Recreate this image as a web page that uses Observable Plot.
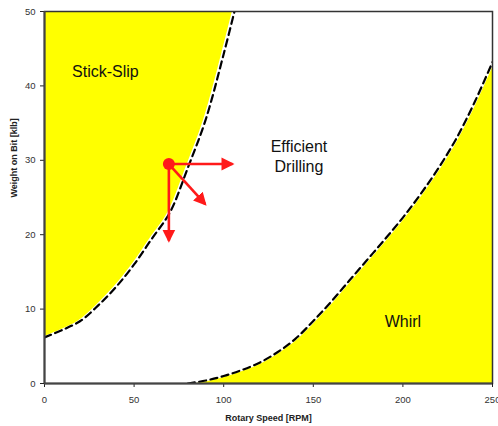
<!DOCTYPE html>
<html>
<head>
<meta charset="utf-8">
<script src="https://cdn.jsdelivr.net/npm/d3@7"></script>
<script src="https://cdn.jsdelivr.net/npm/@observablehq/plot@0.6"></script>
<style>
  html, body { margin: 0; padding: 0; background: #fff; }
</style>
</head>
<body>
<div id="chart"></div>
<script>
// Stick-slip boundary (Rotary Speed [RPM] vs Weight on Bit [klb])
const slipRPM = [0, 10, 20, 30, 40, 50, 60, 70, 80, 90, 100, 106];
const slipWOB = [6.2, 7.2, 8.4, 10.5, 13, 16, 19.5, 23, 29, 35.5, 44.3, 50];

// Whirl boundary
const whirlRPM = [80, 90, 100, 110, 120, 130, 140, 150, 160, 170, 180, 190, 200, 210, 220, 230, 240, 250];
const whirlWOB = [0, 0.4, 1.0, 1.8, 2.8, 4.2, 6.0, 8.4, 11, 13.8, 16.6, 19.4, 22.3, 25.5, 29, 33, 37.8, 43.2];

// Region labels
const regionNames = ["Stick-Slip", "Efficient\nDrilling", "Whirl"];
const regionRPM = [34, 142, 200];
const regionWOB = [42.1, 30.6, 8.5];

// Operating point and arrows
const pointRPM = [69.4];
const pointWOB = [29.5];
const arrowEndRPM = [104.9, 69.4, 89.7];
const arrowEndWOB = [29.5, 19.2, 24.1];

// Axes
const xTicks = [0, 50, 100, 150, 200, 250];
const yTicks = [0, 10, 20, 30, 40, 50];
const xTitle = "Rotary Speed [RPM]";
const yTitle = "Weight on Bit [klb]";

const slip = slipRPM.map((x, i) => ({x, y: slipWOB[i]}));
const whirl = whirlRPM.map((x, i) => ({x, y: whirlWOB[i]}));
const regions = regionNames.map((t, i) => ({t, x: regionRPM[i], y: regionWOB[i]}));
const arrows = arrowEndRPM.map((x2, i) => ({x1: pointRPM[0], y1: pointWOB[0], x2, y2: arrowEndWOB[i]}));
const point = pointRPM.map((x, i) => ({x, y: pointWOB[i]}));

function headMarker(color, context) {
  const m = d3.create("svg:marker")
    .attr("viewBox", "0 -7 14 14")
    .attr("markerWidth", 14)
    .attr("markerHeight", 14)
    .attr("refX", 11)
    .attr("refY", 0)
    .attr("orient", "auto")
    .attr("markerUnits", "userSpaceOnUse");
  m.append("path").attr("d", "M0,-6.5L13,0L0,6.5Z").attr("fill", color).attr("stroke", "none");
  return m.node();
}

const font = "'Liberation Sans', Arial, sans-serif";

const chart = Plot.plot({
  width: 498,
  height: 426,
  marginLeft: 44,
  marginRight: 6,
  marginTop: 11,
  marginBottom: 43,
  style: {fontFamily: font, fontSize: "9.5px", background: "#fff"},
  x: {domain: [0, 250], ticks: xTicks},
  y: {domain: [0, 50], ticks: yTicks},
  marks: [
    Plot.areaY(slip, {x: "x", y1: "y", y2: 50, fill: "#ffff00", curve: "catmull-rom", dx: -2, clip: true}),
    Plot.areaY(whirl, {x: "x", y1: 0, y2: "y", fill: "#ffff00", curve: "catmull-rom", dx: 2, dy: 1, clip: true}),
    Plot.line(slip, {x: "x", y: "y", stroke: "#000", strokeWidth: 2.2, strokeDasharray: "7,4.5", curve: "catmull-rom", clip: true}),
    Plot.line(whirl, {x: "x", y: "y", stroke: "#000", strokeWidth: 2.2, strokeDasharray: "7,4.5", curve: "catmull-rom", clip: true}),
    Plot.frame({stroke: "#333", strokeWidth: 1.5}),
    Plot.axisX({ticks: xTicks, tickSize: 4, tickPadding: 9, label: null, fill: "#333", stroke: "#222"}),
    Plot.axisY({ticks: yTicks, tickSize: 4, tickPadding: 5, label: null, fill: "#333", stroke: "#222"}),
    Plot.ruleX([0], {stroke: "#444", strokeWidth: 2}),
    Plot.ruleY([0], {stroke: "#444", strokeWidth: 2}),
    Plot.text(regions, {x: "x", y: "y", text: "t", fontSize: 16, lineHeight: 1.25, fill: "#111"}),
    Plot.link(arrows, {x1: "x1", y1: "y1", x2: "x2", y2: "y2", stroke: "#ff1a1a", strokeWidth: 2.6, markerEnd: headMarker}),
    Plot.dot(point, {x: "x", y: "y", r: 6, fill: "#ff1a1a", stroke: "none"}),
    Plot.text([xTitle], {frameAnchor: "bottom", dy: 37, text: d => d, fontWeight: "bold", fontSize: 9, fill: "#222"}),
    Plot.text([yTitle], {frameAnchor: "left", dx: -30, rotate: -90, text: d => d, fontWeight: "bold", fontSize: 9, fill: "#222"})
  ]
});
document.getElementById("chart").appendChild(chart);
</script>
</body>
</html>
